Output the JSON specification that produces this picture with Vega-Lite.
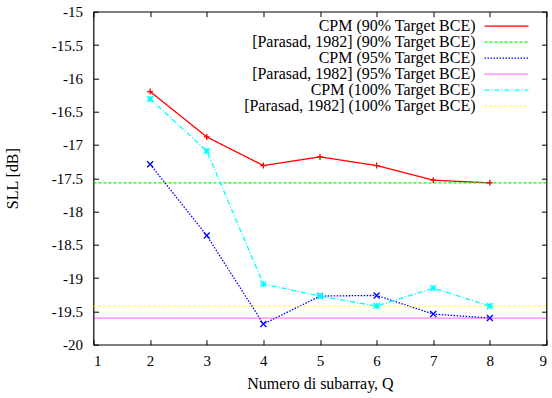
{
  "$schema": "https://vega.github.io/schema/vega-lite/v6.json",
  "width": 453,
  "height": 333,
  "autosize": {"type": "none"},
  "padding": {"left": 93.5, "top": 11.7, "right": 5.3, "bottom": 53.3},
  "background": "white",
  "config": {
    "view": {"stroke": "black", "strokeWidth": 1.2},
    "font": "Liberation Serif",
    "axis": {
      "domain": false,
      "grid": false,
      "tickColor": "black",
      "tickSize": -5,
      "tickWidth": 1,
      "labelFont": "Liberation Serif",
      "labelFontSize": 15,
      "labelColor": "black",
      "titleFont": "Liberation Serif",
      "titleFontSize": 16,
      "titleFontWeight": "normal",
      "titleColor": "black"
    },
    "legend": {
      "labelFont": "Liberation Serif",
      "labelFontSize": 16,
      "labelColor": "black"
    }
  },
  "data": {
    "values": [
      {"series": "CPM (90% Target BCE)", "Q": 2, "SLL": -16.2},
      {"series": "CPM (90% Target BCE)", "Q": 3, "SLL": -16.88},
      {"series": "CPM (90% Target BCE)", "Q": 4, "SLL": -17.31},
      {"series": "CPM (90% Target BCE)", "Q": 5, "SLL": -17.18},
      {"series": "CPM (90% Target BCE)", "Q": 6, "SLL": -17.31},
      {"series": "CPM (90% Target BCE)", "Q": 7, "SLL": -17.53},
      {"series": "CPM (90% Target BCE)", "Q": 8, "SLL": -17.57},
      {"series": "[Parasad, 1982] (90% Target BCE)", "Q": 1, "SLL": -17.57},
      {"series": "[Parasad, 1982] (90% Target BCE)", "Q": 9, "SLL": -17.57},
      {"series": "CPM (95% Target BCE)", "Q": 2, "SLL": -17.29},
      {"series": "CPM (95% Target BCE)", "Q": 3, "SLL": -18.36},
      {"series": "CPM (95% Target BCE)", "Q": 4, "SLL": -19.69},
      {"series": "CPM (95% Target BCE)", "Q": 5, "SLL": -19.27},
      {"series": "CPM (95% Target BCE)", "Q": 6, "SLL": -19.26},
      {"series": "CPM (95% Target BCE)", "Q": 7, "SLL": -19.54},
      {"series": "CPM (95% Target BCE)", "Q": 8, "SLL": -19.6},
      {"series": "[Parasad, 1982] (95% Target BCE)", "Q": 1, "SLL": -19.6},
      {"series": "[Parasad, 1982] (95% Target BCE)", "Q": 9, "SLL": -19.6},
      {"series": "CPM (100% Target BCE)", "Q": 2, "SLL": -16.31},
      {"series": "CPM (100% Target BCE)", "Q": 3, "SLL": -17.09},
      {"series": "CPM (100% Target BCE)", "Q": 4, "SLL": -19.09},
      {"series": "CPM (100% Target BCE)", "Q": 5, "SLL": -19.27},
      {"series": "CPM (100% Target BCE)", "Q": 6, "SLL": -19.42},
      {"series": "CPM (100% Target BCE)", "Q": 7, "SLL": -19.15},
      {"series": "CPM (100% Target BCE)", "Q": 8, "SLL": -19.42},
      {"series": "[Parasad, 1982] (100% Target BCE)", "Q": 1, "SLL": -19.42},
      {"series": "[Parasad, 1982] (100% Target BCE)", "Q": 9, "SLL": -19.42}
    ]
  },
  "resolve": {"axis": {"x": "independent", "y": "independent"}},
  "layer": [
    {
      "mark": {"type": "line", "strokeWidth": 1.3, "clip": true},
      "encoding": {
        "x": {
          "field": "Q", "type": "quantitative",
          "scale": {"domain": [1, 9], "nice": false},
          "axis": {"values": [1, 2, 3, 4, 5, 6, 7, 8, 9], "title": "Numero di subarray, Q", "labelPadding": 14, "titlePadding": 7, "labelExpr": "'' + datum.value"}
        },
        "y": {
          "field": "SLL", "type": "quantitative",
          "scale": {"domain": [-20, -15], "nice": false, "zero": false},
          "axis": {"values": [-20, -19.5, -19, -18.5, -18, -17.5, -17, -16.5, -16, -15.5, -15], "title": "SLL [dB]", "labelPadding": 16, "titlePadding": 31, "labelExpr": "'' + datum.value"}
        },
        "color": {
          "field": "series", "type": "nominal",
          "scale": {
            "domain": ["CPM (90% Target BCE)", "[Parasad, 1982] (90% Target BCE)", "CPM (95% Target BCE)", "[Parasad, 1982] (95% Target BCE)", "CPM (100% Target BCE)", "[Parasad, 1982] (100% Target BCE)"],
            "range": ["#ff0000", "#00ff00", "#0000ff", "#ff00ff", "#00ffff", "#ffff00"]
          },
          "legend": {
            "title": null,
            "orient": "none",
            "legendX": 405,
            "legendY": 6.5,
            "symbolType": "M-3,0L3,0",
            "symbolSize": 215,
            "symbolStrokeWidth": 1.3,
            "labelAlign": "right",
            "labelOffset": -39,
            "rowPadding": -0.5,
            "labelLimit": 400
          }
        },
        "strokeDash": {
          "field": "series", "type": "nominal",
          "scale": {
            "domain": ["CPM (90% Target BCE)", "[Parasad, 1982] (90% Target BCE)", "CPM (95% Target BCE)", "[Parasad, 1982] (95% Target BCE)", "CPM (100% Target BCE)", "[Parasad, 1982] (100% Target BCE)"],
            "range": [[1, 0], [3, 2], [1.5, 1.5], [1, 1], [5, 2, 1, 2], [2, 3]]
          },
          "legend": {
            "title": null,
            "orient": "none",
            "legendX": 405,
            "legendY": 6.5,
            "symbolType": "M-3,0L3,0",
            "symbolSize": 215,
            "symbolStrokeWidth": 1.3,
            "labelAlign": "right",
            "labelOffset": -39,
            "rowPadding": -0.5,
            "labelLimit": 400
          }
        }
      }
    },
    {
      "transform": [{"filter": {"field": "series", "oneOf": ["CPM (90% Target BCE)", "CPM (95% Target BCE)", "CPM (100% Target BCE)"]}}],
      "mark": {"type": "point", "filled": false, "strokeWidth": 1.3, "size": 36, "opacity": 1},
      "encoding": {
        "x": {"field": "Q", "type": "quantitative", "axis": {"orient": "top", "values": [1, 2, 3, 4, 5, 6, 7, 8, 9], "labels": false, "title": null}},
        "y": {"field": "SLL", "type": "quantitative", "axis": {"orient": "right", "values": [-20, -19.5, -19, -18.5, -18, -17.5, -17, -16.5, -16, -15.5, -15], "labels": false, "title": null}},
        "color": {"field": "series", "type": "nominal", "legend": null},
        "shape": {
          "field": "series", "type": "nominal",
          "scale": {
            "domain": ["CPM (90% Target BCE)", "CPM (95% Target BCE)", "CPM (100% Target BCE)"],
            "range": ["M-1,0L1,0M0,-1L0,1", "M-1,-1L1,1M-1,1L1,-1", "M-1,0L1,0M0,-1L0,1M-1,-1L1,1M-1,1L1,-1"]
          },
          "legend": null
        }
      }
    }
  ]
}
